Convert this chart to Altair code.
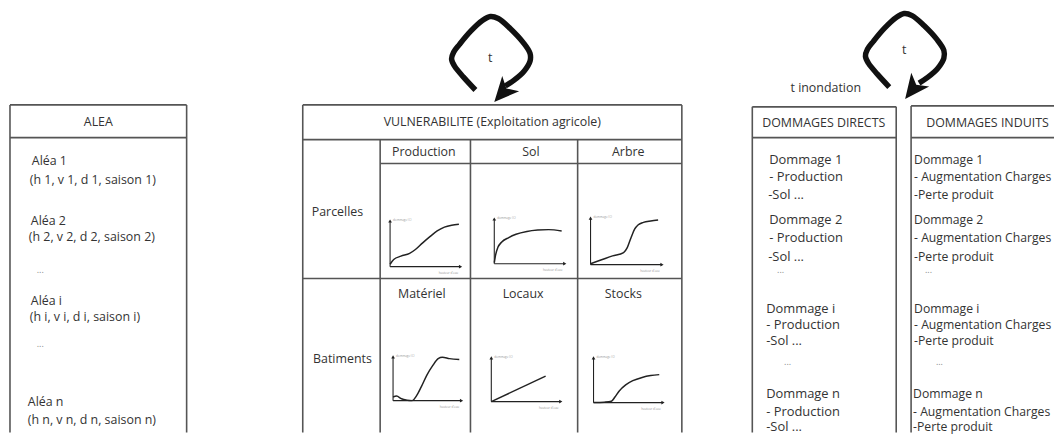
import math
import altair as alt
import pandas as pd

# ---------------- data: texts ----------------
alea_header = "ALEA"
alea_lines = ["Aléa 1", "(h 1, v 1, d 1, saison 1)", "Aléa 2", "(h 2, v 2, d 2, saison 2)", "...",
              "Aléa i", "(h i, v i, d i, saison i)", "...", "Aléa n", "(h n, v n, d n, saison n)"]
vuln_header = "VULNERABILITE (Exploitation agricole)"
row_labels = ["Parcelles", "Batiments"]
col_labels = ["Production", "Sol", "Arbre", "Matériel", "Locaux", "Stocks"]
dd_header = "DOMMAGES DIRECTS"
dd_lines = ["Dommage 1", "- Production", "-Sol ...", "Dommage 2", "- Production", "-Sol ...", "...",
            "Dommage i", "- Production", "-Sol ...", "...", "Dommage n", "- Production", "-Sol ..."]
di_header = "DOMMAGES INDUITS"
di_lines = ["Dommage 1", "- Augmentation Charges", "-Perte produit", "Dommage 2", "- Augmentation Charges",
            "-Perte produit", "...", "Dommage i", "- Augmentation Charges", "-Perte produit", "...",
            "Dommage n", "- Augmentation Charges", "-Perte produit"]
loop_label = "t"
flood_label = "t inondation"
mini_y_label = "dommage (€)"
mini_x_label = "hauteur d'eau"

# ---------------- data: damage curves (fraction of axis length) ----------------
curve_u = {
    "Production": [0.0, 0.05, 0.15, 0.27, 0.35, 0.45, 0.55, 0.65, 0.75, 0.85, 0.95],
    "Sol":        [0.0, 0.02, 0.05, 0.10, 0.20, 0.30, 0.45, 0.60, 0.75, 0.93],
    "Arbre":      [0.0, 0.15, 0.30, 0.45, 0.50, 0.55, 0.60, 0.65, 0.72, 0.82, 0.92],
    "Matériel":   [0.0, 0.05, 0.12, 0.20, 0.27, 0.33, 0.40, 0.48, 0.56, 0.64, 0.70, 0.80, 0.94],
    "Locaux":     [0.0, 0.76],
    "Stocks":     [0.0, 0.15, 0.25, 0.30, 0.36, 0.45, 0.55, 0.68, 0.80, 0.92],
}
curve_v = {
    "Production": [0.05, 0.15, 0.22, 0.28, 0.36, 0.50, 0.63, 0.75, 0.83, 0.87, 0.89],
    "Sol":        [0.02, 0.20, 0.35, 0.46, 0.56, 0.63, 0.69, 0.72, 0.73, 0.70],
    "Arbre":      [0.02, 0.10, 0.18, 0.25, 0.35, 0.55, 0.73, 0.82, 0.87, 0.90, 0.92],
    "Matériel":   [0.08, 0.10, 0.04, 0.01, 0.0, 0.10, 0.30, 0.56, 0.76, 0.92, 0.95, 0.92, 0.90],
    "Locaux":     [0.0, 0.56],
    "Stocks":     [0.0, 0.01, 0.03, 0.12, 0.25, 0.38, 0.47, 0.54, 0.58, 0.60],
}

# ---------------- layout (pixel positions on the page) ----------------
FONT = "Open Sans"
TXT = "#333333"
LINE = "#555555"

alea_x = [32, 30, 31, 29, 37, 31, 30, 37, 28, 28]
alea_y = [161, 180, 221, 237, 273, 302, 318, 348, 403, 422]
list_y = [160, 177, 195, 220, 238, 257, 273, 310, 326, 342, 366, 395, 413, 429]
dd_x = [775, 775, 774, 775, 775, 774, 783, 772, 772, 772, 790, 772, 772, 772]
di_x = [921, 921, 921, 921, 921, 921, 932, 921, 921, 921, 943, 920, 920, 920]

col_pos = [(427, 151), (535, 151), (633, 152), (425, 295), (527, 295), (628, 295)]
row_pos = [(340, 212), (345, 360)]
# mini panels: origin x, origin y, y-axis tip, x-axis tip
panels = {
    "Production": (393, 267, 219, 466),
    "Sol":        (498, 264, 217, 571),
    "Arbre":      (595, 265, 216, 669),
    "Matériel":   (396, 402, 356, 467),
    "Locaux":     (495, 403, 357, 567),
    "Stocks":     (598, 404, 357, 670),
}

segments = [
    # ALEA box
    (10, 104, 188, 104), (10, 137, 188, 137), (10, 104, 10, 434), (188, 104, 188, 434),
    # VULNERABILITE table
    (305, 104, 687, 104), (305, 139, 687, 139), (305, 104, 305, 434), (687, 104, 687, 434),
    (383, 139, 383, 434), (474, 139, 474, 434), (582, 139, 582, 434),
    (383, 163, 687, 163), (305, 279, 687, 279),
    # DOMMAGES DIRECTS
    (758, 106, 903, 106), (758, 137, 903, 137), (758, 106, 758, 434), (903, 106, 903, 434),
    # DOMMAGES INDUITS
    (918, 105, 1062, 105), (918, 137, 1062, 137), (918, 105, 918, 434),
]

# loop arrows: centre, arrow tip, arrow angle (rounded-diamond path offsets in px)
loops = [((495, 58), (498, 101), 222), ((912, 55), (912, 98), 218)]
loop_dx = [-16, -28, -37, -40, -38, -32, -21, -9, -1, 7, 19, 32, 39, 39, 33, 23, 14]
loop_dy = [31, 18, 7, 0, -7, -15, -28, -39, -43, -41, -31, -17, -6, 2, 12, 21, 27]
loop_label_pos = [(494, 57), (911, 49)]

# ---------------- build tables ----------------
center_txt = [
    (99, 121, alea_header), (496, 121, vuln_header), (830, 122, dd_header), (995, 122, di_header),
    (832, 87, flood_label),
]
for (x, y) in loop_label_pos:
    center_txt.append((x, y, loop_label))
for (x, y), t in zip(col_pos, col_labels):
    center_txt.append((x, y, t))
for (x, y), t in zip(row_pos, row_labels):
    center_txt.append((x, y, t))
center_df = pd.DataFrame(center_txt, columns=["x", "y", "text"])

alea_rows = list(zip(alea_x, alea_y, alea_lines))
dd_rows = list(zip(dd_x, list_y, dd_lines))
di_rows = list(zip(di_x, list_y, di_lines))
alea_df = pd.DataFrame([r for r in alea_rows if r[2] != "..."], columns=["x", "y", "text"])
dd_df = pd.DataFrame([r for r in dd_rows if r[2] != "..."], columns=["x", "y", "text"])
di_df = pd.DataFrame([r for r in di_rows if r[2] != "..."], columns=["x", "y", "text"])
dots_df = pd.DataFrame([r for r in alea_rows + dd_rows + di_rows if r[2] == "..."],
                       columns=["x", "y", "text"])

seg_df = pd.DataFrame(segments, columns=["x", "y", "x2", "y2"])

curve_rows, axis_rows, head_rows, tiny_rows = [], [], [], []
for name, (ox, oy, top, right) in panels.items():
    for i, (u, v) in enumerate(zip(curve_u[name], curve_v[name])):
        curve_rows.append({"panel": name, "i": i, "x": ox + u * (right - ox), "y": oy - v * (oy - top)})
    axis_rows.append({"x": ox, "y": oy, "x2": ox, "y2": top + 2})
    axis_rows.append({"x": ox, "y": oy, "x2": right - 2, "y2": oy})
    head_rows.append({"x": ox, "y": top + 2, "shape": "triangle-up"})
    head_rows.append({"x": right - 2, "y": oy, "shape": "triangle-right"})
    tiny_rows.append({"x": ox + 3, "y": top + 1, "text": mini_y_label})
    tiny_rows.append({"x": right - 24, "y": oy + 6, "text": mini_x_label})
curve_df = pd.DataFrame(curve_rows)
axis_df = pd.DataFrame(axis_rows)
head_df = pd.DataFrame(head_rows)
tiny_df = pd.DataFrame(tiny_rows)

loop_rows, arrow_rows = [], []
S = 13
for k, ((cx, cy), (tx, ty), ang) in enumerate(loops):
    for i, (dx, dy) in enumerate(zip(loop_dx, loop_dy)):
        loop_rows.append({"loop": k, "i": i, "x": cx + dx, "y": cy + dy})
    dirx, diry = math.sin(math.radians(ang)), -math.cos(math.radians(ang))
    arrow_rows.append({"x": tx - S * dirx, "y": ty - S * diry, "angle": ang})
loop_df = pd.DataFrame(loop_rows)
arrow_df = pd.DataFrame(arrow_rows)

# ---------------- chart ----------------
W, H = 1054, 426
xs = alt.Scale(domain=[8, 8 + W], nice=False, zero=False)
ys = alt.Scale(domain=[8, 8 + H], nice=False, zero=False, reverse=True)


def X(f="x"):
    return alt.X(f"{f}:Q", scale=xs, axis=None)


def Y(f="y"):
    return alt.Y(f"{f}:Q", scale=ys, axis=None)


lines = alt.Chart(seg_df).mark_rule(color=LINE, strokeWidth=1.6).encode(
    x=X(), y=Y(), x2="x2:Q", y2="y2:Q")

ctext = alt.Chart(center_df).mark_text(font=FONT, fontSize=12.5, color=TXT, align="center",
                                       baseline="middle").encode(x=X(), y=Y(), text="text:N")
atext = alt.Chart(alea_df).mark_text(font=FONT, fontSize=12.5, color=TXT, align="left",
                                     baseline="middle").encode(x=X(), y=Y(), text="text:N")
ddtext = alt.Chart(dd_df).mark_text(font=FONT, fontSize=13, color=TXT, align="left",
                                    baseline="middle").encode(x=X(), y=Y(), text="text:N")
ditext = alt.Chart(di_df).mark_text(font=FONT, fontSize=12.3, color=TXT, align="left",
                                    baseline="middle").encode(x=X(), y=Y(), text="text:N")
dtext = alt.Chart(dots_df).mark_text(font=FONT, fontSize=9, color="#888888", align="left",
                                     baseline="alphabetic").encode(x=X(), y=Y(), text="text:N")

axes = alt.Chart(axis_df).mark_rule(color="#222222", strokeWidth=1.1).encode(
    x=X(), y=Y(), x2="x2:Q", y2="y2:Q")
heads = alt.Chart(head_df).mark_point(filled=True, color="#222222", size=14, opacity=1).encode(
    x=X(), y=Y(), shape=alt.Shape("shape:N", scale=None))
tiny = alt.Chart(tiny_df).mark_text(font=FONT, fontSize=3, color="#999999", align="left",
                                    baseline="middle").encode(x=X(), y=Y(), text="text:N")
curves = alt.Chart(curve_df).mark_line(color="#222222", strokeWidth=1.5, interpolate="monotone").encode(
    x=X(), y=Y(), detail="panel:N", order="i:Q")

loop_lines = alt.Chart(loop_df).mark_line(color="#111111", strokeWidth=5.5, interpolate="catmull-rom",
                                          strokeCap="butt", strokeJoin="round").encode(
    x=X(), y=Y(), detail="loop:N", order="i:Q")
arrows = alt.Chart(arrow_df).mark_point(
    filled=True, color="#111111", opacity=1, size=(2 * S) ** 2,
    shape="M0,-1L0.88,0.9L0,0.4L-0.88,0.9Z").encode(
    x=X(), y=Y(), angle=alt.Angle("angle:Q", scale=None))

chart = alt.layer(lines, curves, axes, heads, tiny, loop_lines, arrows,
                  ctext, atext, ddtext, ditext, dtext).properties(
    width=W, height=H, autosize=alt.AutoSizeParams(type="none"), padding=0,
    background="white"
).configure_view(strokeWidth=0)

chart.save("out.html", embed_options={"renderer": "svg", "actions": False})
